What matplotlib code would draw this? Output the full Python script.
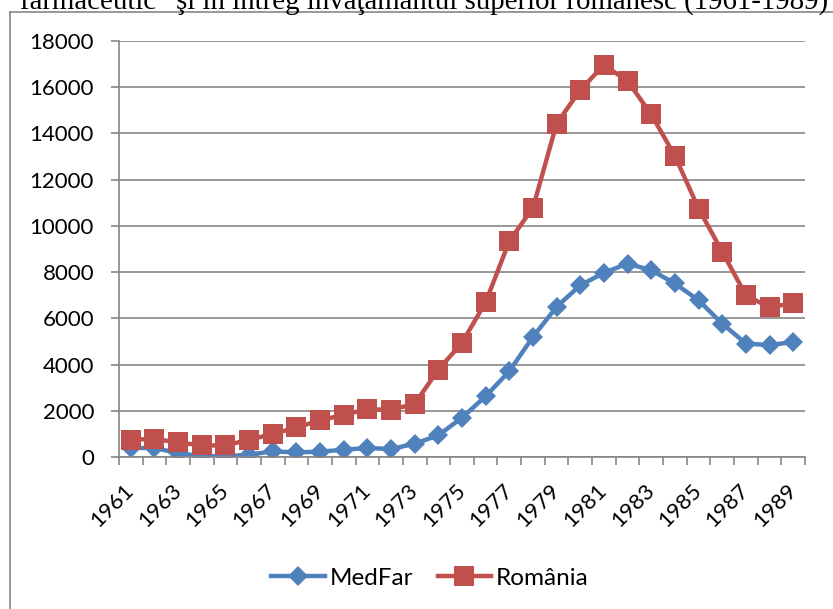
import matplotlib.pyplot as plt
from matplotlib.lines import Line2D
from matplotlib.ticker import FixedLocator

# Data
years = list(range(1961, 1990))
medfar = [390, 390, 170, 30, 30, 100, 245, 200, 230, 315, 390, 345, 575,
          940, 1700, 2630, 3710, 5200, 6500, 7430, 7970, 8370, 8080, 7510,
          6780, 5770, 4910, 4840, 4980]
romania = [750, 780, 630, 500, 500, 750, 990, 1280, 1580, 1830, 2070, 2040, 2300,
           3780, 4940, 6700, 9340, 10780, 14430, 15880, 16960, 16270, 14820, 13030,
           10750, 8880, 7000, 6470, 6670]
series_names = ['MedFar', 'România']
title_text = 'farmaceutic” şi în întreg învăţământul superior românesc (1961-1989)'

blue = '#4F81BD'
red = '#C0504D'
grey = '#868686'

plt.rcParams['font.family'] = ['Lato', 'DejaVu Sans']

W, H = 833, 609
fig = plt.figure(figsize=(W / 100, H / 100), dpi=100)
ax = fig.add_axes([119 / W, 1 - 457 / H, (805 - 119) / W, (457 - 41) / H])

x = list(range(len(years)))
ax.plot(x, medfar, color=blue, lw=3.2, marker='D', markersize=10,
        markeredgewidth=0, label=series_names[0], solid_joinstyle='round')
ax.plot(x, romania, color=red, lw=3.2, marker='s', markersize=14,
        markeredgewidth=0, label=series_names[1], solid_joinstyle='round')

ax.set_xlim(-0.5, len(years) - 0.5)
ax.set_ylim(0, 18000)
ax.set_yticks(range(0, 18001, 2000))
ax.grid(axis='y', color=grey, lw=1.2)
ax.set_axisbelow(True)

# category labels on every other year, tick marks between categories
ax.set_xticks(x[::2])
ax.set_xticklabels([str(y) for y in years[::2]])
ax.xaxis.set_minor_locator(FixedLocator([i - 0.5 for i in range(len(years) + 1)]))
ax.tick_params(axis='x', which='major', length=0, pad=22, labelsize=16)
ax.tick_params(axis='x', which='minor', length=6, width=1.2, color=grey)
ax.tick_params(axis='y', length=6, width=1.2, color=grey, pad=12, labelsize=16)
for lab in ax.get_xticklabels():
    lab.set_rotation(45)
    lab.set_rotation_mode('anchor')
    lab.set_ha('right')
    lab.set_va('center')

for s in ['top', 'right']:
    ax.spines[s].set_visible(False)
for s in ['left', 'bottom']:
    ax.spines[s].set_color(grey)
    ax.spines[s].set_linewidth(1.2)

ax.legend(loc='center', bbox_to_anchor=(430 / W, 1 - 578 / H),
          bbox_transform=fig.transFigure, ncol=2, frameon=False,
          fontsize=17.5, handlelength=2.2, handletextpad=0.2, columnspacing=1.0)

# outer chart frame (only left and top edges are inside the picture)
fig.add_artist(Line2D([10 / W, 10 / W], [0, 1 - 12 / H], color=grey, lw=1.2,
                      transform=fig.transFigure))
fig.add_artist(Line2D([10 / W, 1], [1 - 12 / H, 1 - 12 / H], color=grey, lw=1.2,
                      transform=fig.transFigure))

# title, cut off at the top edge
fig.text(20 / W, 1 - 9 / H, title_text, family='Liberation Serif', fontsize=20.8,
         va='baseline', ha='left')

fig.savefig('out.png', dpi=100)
